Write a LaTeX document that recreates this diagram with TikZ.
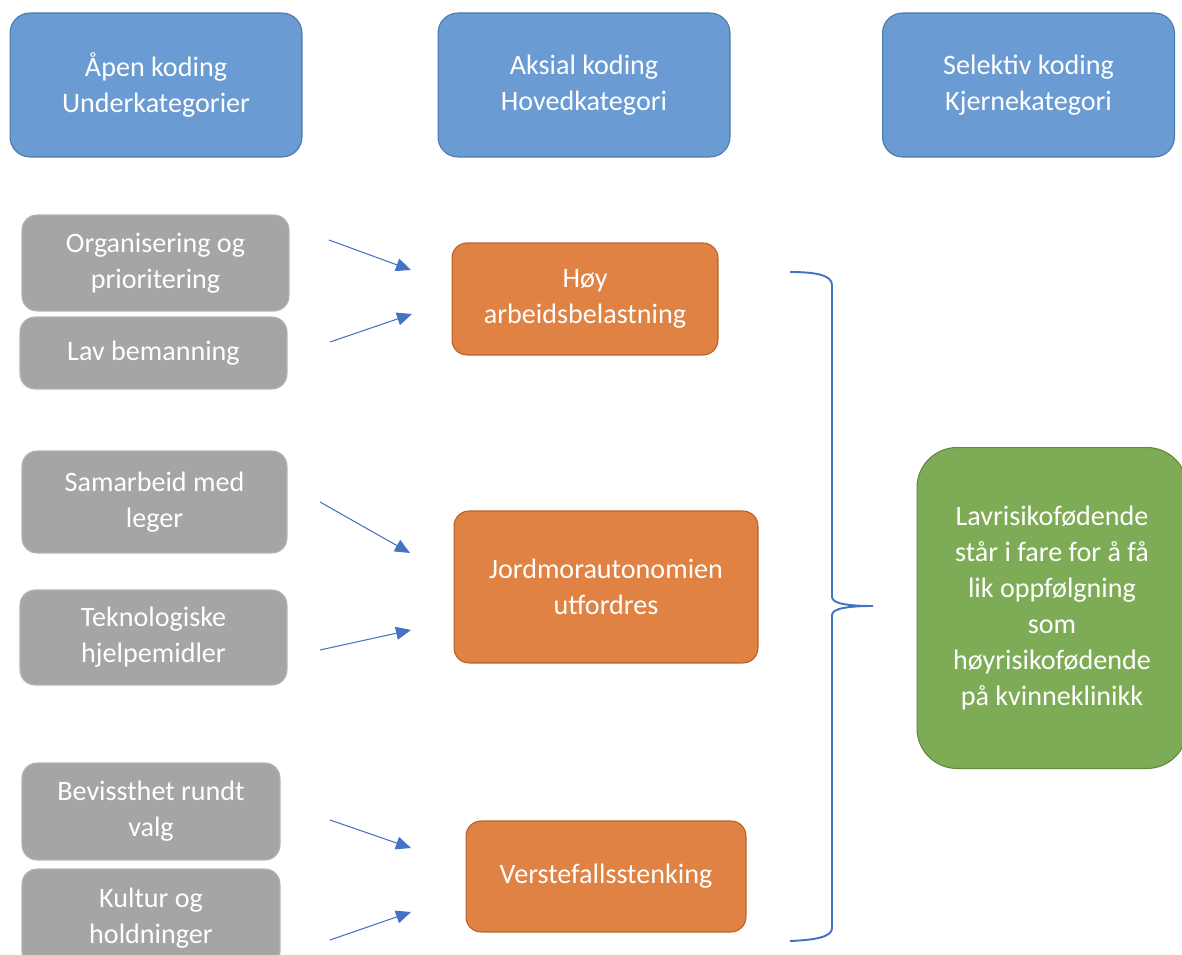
\documentclass[tikz,border=0pt]{standalone}
\usepackage{fontspec}
\setmainfont{Carlito}
\usetikzlibrary{arrows.meta}

\begin{document}
\begin{tikzpicture}[x=0.02cm, y=-0.02cm,
    font=\fontsize{16pt}{20.4pt}\selectfont,
    box/.style={draw, line width=0.6pt, text=white, align=center, inner sep=2pt},
    headbox/.style={box, fill=headColor, draw=headLine, rounded corners=0.4cm,
        minimum width=5.84cm, minimum height=2.88cm},
    subbox/.style={box, fill=subColor, draw=subLine, rounded corners=0.3cm},
    mainbox/.style={box, fill=mainColor, draw=mainLine, rounded corners=0.3cm},
    corebox/.style={box, fill=coreColor, draw=coreLine, rounded corners=0.8cm},
    arr/.style={draw=arrColor, line width=0.6pt, -{Triangle[length=3mm, width=2.6mm]}}]

% Colours
\definecolor{headColor}{HTML}{6A9BD2}
\definecolor{headLine}{HTML}{4A78A8}
\definecolor{subColor}{HTML}{A5A5A5}
\definecolor{subLine}{HTML}{B4B4B4}
\definecolor{mainColor}{HTML}{DF8243}
\definecolor{mainLine}{HTML}{B5622A}
\definecolor{coreColor}{HTML}{7EAC56}
\definecolor{coreLine}{HTML}{5E8A3C}
\definecolor{arrColor}{HTML}{4472C4}

\useasboundingbox (0,0) rectangle (1182,955);
\clip (0,0) rectangle (1182,955);

% --- HEADERS ---
    \node[headbox] (open) at (156,85) {Åpen koding\\Underkategorier};
    \node[headbox] (axial) at (584,85) {Aksial koding\\Hovedkategori};
    \node[headbox] (selective) at (1028.5,85) {Selektiv koding\\Kjernekategori};

% --- SUBCATEGORIES ---
    \node[subbox, minimum width=5.34cm, minimum height=1.92cm] (organise) at (155.5,263) {Organisering og\\prioritering};
    \node[subbox, minimum width=5.34cm, minimum height=1.44cm] (staffing) at (153.5,353) {Lav bemanning};
    \node[subbox, minimum width=5.30cm, minimum height=2.04cm] (doctors) at (154.5,502) {Samarbeid med\\leger};
    \node[subbox, minimum width=5.34cm, minimum height=1.90cm] (techaids) at (153.5,637.5) {Teknologiske\\hjelpemidler};
    \node[subbox, minimum width=5.16cm, minimum height=1.94cm] (choice) at (151,811.5) {Bevissthet rundt\\valg};
    \node[subbox, minimum width=5.16cm, minimum height=1.96cm] (culture) at (151,918) {Kultur og\\holdninger};

% --- MAIN CATEGORIES ---
    \node[mainbox, minimum width=5.32cm, minimum height=2.24cm] (workload) at (585,299) {Høy\\arbeidsbelastning};
    \node[mainbox, minimum width=6.08cm, minimum height=3.04cm] (autonomy) at (606,587) {Jordmorautonomien\\utfordres};
    \node[mainbox, minimum width=5.60cm, minimum height=2.22cm] (worstcase) at (606,876.5) {Verstefallsstenking};

% --- CORE CATEGORY ---
    \node[corebox, minimum width=5.40cm, minimum height=6.42cm] (core) at (1052,608)
        {Lavrisikofødende\\står i fare for å få\\lik oppfølgning\\som\\høyrisikofødende\\på kvinneklinikk};

% --- ARROWS (free standing) ---
    \coordinate (a1s) at (329,240); \coordinate (a1e) at (411,270);
    \coordinate (a2s) at (330,342); \coordinate (a2e) at (412,314);
    \coordinate (a3s) at (320,502); \coordinate (a3e) at (410,553);
    \coordinate (a4s) at (320,650); \coordinate (a4e) at (411,630);
    \coordinate (a5s) at (330,820); \coordinate (a5e) at (411,848);
    \coordinate (a6s) at (330,940); \coordinate (a6e) at (411,912);
    \foreach \i in {1,...,6}
    \draw[arr] (a\i s) -- (a\i e);

% --- BRACE ---
    \draw[arrColor, line width=1.1pt]
        (790,272) .. controls (815,272) and (832,275) .. (832,285)
        -- (832,597) .. controls (832,604) and (850,606) .. (873,606)
        .. controls (850,606) and (832,608) .. (832,615)
        -- (832,928) .. controls (832,937) and (815,940) .. (790,941);

\end{tikzpicture}
\end{document}
